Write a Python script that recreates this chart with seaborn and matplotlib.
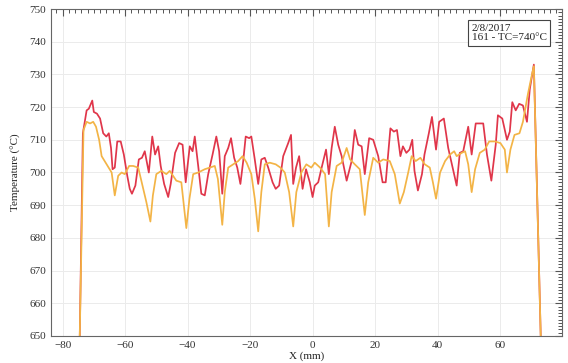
import numpy as np
import pandas as pd
import matplotlib
matplotlib.use("Agg")
import matplotlib.pyplot as plt
from matplotlib.ticker import MultipleLocator
import seaborn as sns

# values (X in mm, temperature in °C)
x_red = [-74.5, -73.5, -72.3, -71.6, -70.5, -70, -69, -68, -67, -66, -65.2, -64.5, -64, -63.3,
         -62.5, -61.4, -60.4, -59.3, -58.5, -57.8, -56.7, -55.6, -54.6, -53.7, -52.4, -51.3,
         -50.4, -49.4, -48.6, -47.5, -46.2, -45.4, -44, -42.7, -41.6, -40.6, -39.3, -38.4,
         -37.7, -36.6, -35.6, -34.5, -33.4, -32, -30.8, -29.9, -28.9, -28.1, -27, -26.1,
         -25.1, -24.1, -23.1, -22.2, -21.4, -20.3, -19.6, -18.5, -17.4, -16.4, -15.3, -14.2,
         -12.8, -11.8, -10.7, -9.4, -7.8, -6.9, -6.2, -5.3, -4.3, -3.2, -2.1, -0.9, 0, 0.7,
         1.8, 2.9, 4.3, 5.2, 6.1, 7.1, 8.2, 9.3, 10.9, 12.5, 13.5, 14.6, 15.7, 16.7, 18.1,
         19.4, 21, 22.4, 23.4, 24.9, 26, 27, 28.1, 28.9, 30, 31, 31.9, 32.6, 33.7, 35, 35.8,
         37.2, 38.2, 39.5, 40.5, 42, 43.4, 44.8, 46.1, 47.1, 48.2, 49.8, 50.9, 52.2, 53.5,
         54.6, 55.8, 57.2, 58.6, 59.3, 60.7, 62.2, 63.1, 63.9, 65, 66.1, 67.3, 68.6, 69.5,
         70.8, 73]
t_red = [650, 712, 719, 719.5, 722, 718.5, 718, 716.5, 712, 711, 712, 707.5, 701, 701.5,
         709.5, 709.5, 705.5, 699, 695, 693.5, 696, 704, 704.5, 706.5, 700, 711,
         705.5, 708, 702, 696.5, 692.5, 696.5, 706, 709, 708.5, 697, 708, 706.5,
         711, 702, 693.5, 693, 699.5, 705.5, 711, 706.5, 693.5, 705, 707.5, 710.5,
         704.5, 701.5, 696.5, 703.5, 711, 710.5, 711, 704, 696.5, 704, 704.5, 701.5,
         697, 695, 696, 705, 709, 711.5, 696.5, 701.5, 705, 695, 701, 697, 692.5, 696,
         697, 701.5, 707, 699.5, 707.5, 714, 708.5, 705, 697.5, 703.5, 713, 708.5, 708, 699.5, 710.5,
         710, 705, 697, 697, 713.5, 712.5, 713, 705, 708, 706, 707, 710, 700.5, 694.5, 699.5, 705.5,
         712, 717, 707, 715.5, 716.5, 707.5, 701.5, 696, 706, 706.5, 714, 705.5, 715, 715,
         715, 705.5, 697.5, 708.5, 717.5, 716.5, 710, 712.5, 721.5, 719, 721, 720.5, 715.5, 725.5,
         733, 650]

x_orange = [-74.5, -73.3, -72.3, -71.2, -70.2, -69.3, -68.3, -67.5, -65.9, -64.3, -63.3, -62.2,
            -61.1, -60.1, -58.7, -57.4, -55.8, -54.8, -53.2, -51.9, -51.1, -50, -48.4, -46.8,
            -45.7, -43.6, -42, -40.4, -39.4, -38.2, -36.6, -34.5, -32.9, -31.3, -30.3, -28.9,
            -28.1, -27, -25.4, -23.8, -22.4, -21.1, -19.6, -18.5, -17.4, -16.4, -15.3, -13.7,
            -11.8, -10.3, -8.9, -7.5, -6.2, -5.2, -3.6, -2, -0.4, 0.7, 2.4, 4, 5.2, 6.1, 7.7,
            9.3, 10.9, 12, 13.5, 15.1, 16.7, 17.8, 19.4, 21, 22.6, 24.7, 26.3, 27.9, 29.2, 30.6,
            31.7, 33, 34.5, 35.9, 37.5, 38.5, 39.5, 40.8, 42.4, 44, 45.3, 46.1, 47.7, 48.8, 49.8,
            50.9, 52, 53.5, 55.1, 56.5, 58.3, 60.1, 61.5, 62.2, 63.3, 64.6, 66.2, 67.3, 68.9,
            70.2, 70.8, 73]
t_orange = [650, 713, 715.5, 715, 715.5, 714, 710, 705, 702.5, 700, 693, 699,
            700, 699.5, 702, 702, 701.5, 697.5, 691, 685, 693, 699.5, 700.5, 699.5,
            700.5, 697.5, 697, 683, 692, 699.5, 700, 701, 701.5, 702, 698, 684,
            694, 701.5, 702.5, 703.5, 705, 703, 699.5, 692, 682, 694, 702.5, 703,
            702.5, 701.5, 700, 694, 683.5, 694, 700, 702.5, 701.5, 703, 701.5, 699.5, 683.5, 694, 702,
            703, 707.5, 704, 702.5, 701, 687, 697, 704.5, 703, 704, 703.5, 699.5, 690.5, 694, 700,
            705, 703.5, 704.5, 702.5, 701.5, 697, 692, 700, 703.5, 705.5, 706.5, 705, 706, 706.5, 702.5,
            694, 701, 706, 707, 709.5, 709.5, 709, 707, 700, 707, 711.5, 712, 715.5, 724,
            730, 732.5, 650]

red_color = "#e0364a"
orange_color = "#f3b446"

df = pd.concat([
    pd.DataFrame({"x": x_red, "t": t_red, "run": "red"}),
    pd.DataFrame({"x": x_orange, "t": t_orange, "run": "orange"}),
])

sns.set_style("white")
plt.rcParams["font.family"] = ["Liberation Serif", "DejaVu Serif"]

fig = plt.figure(figsize=(5.68, 3.63), dpi=100)
ax = fig.add_axes([0.0898, 0.0744, 0.8996, 0.9008])

sns.lineplot(data=df, x="x", y="t", hue="run", palette={"red": red_color, "orange": orange_color},
             hue_order=["red", "orange"], sort=False, estimator=None, linewidth=1.25,
             legend=False, ax=ax)

ax.set_xlim(-83.7, 79.8)
ax.set_ylim(650, 750)
ax.xaxis.set_major_locator(MultipleLocator(20))
ax.xaxis.set_minor_locator(MultipleLocator(2))
ax.yaxis.set_major_locator(MultipleLocator(10))
ax.yaxis.set_minor_locator(MultipleLocator(1))
ax.tick_params(which="both", direction="in", top=True, right=True, colors="#555555",
               labelcolor="#333333", labelsize=8)
ax.tick_params(which="major", length=5, width=0.8)
ax.tick_params(which="minor", length=3, width=0.7)
ax.grid(True, which="major", color="#ebebeb", linewidth=0.7)
ax.set_axisbelow(True)
for s in ax.spines.values():
    s.set_color("#666666")
    s.set_linewidth(0.8)

ax.set_xlabel("X (mm)", fontsize=8, labelpad=1, color="#222222")
ax.set_ylabel("Temperature (°C)", fontsize=8, labelpad=6, color="#222222")

ax.text(0.823, 0.955, "2/8/2017\n161 - TC=740°C", transform=ax.transAxes, fontsize=8,
        va="top", ha="left", color="#222222", linespacing=1.1,
        bbox=dict(boxstyle="square,pad=0.3", facecolor="white", edgecolor="#444444", linewidth=0.8))

fig.savefig("out.png", dpi=100)
